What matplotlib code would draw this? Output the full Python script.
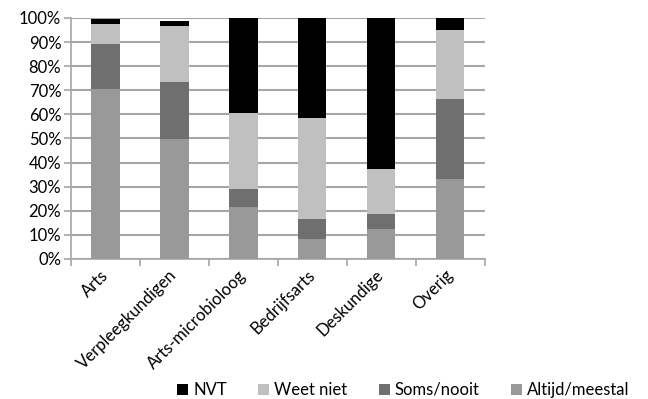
import numpy as np
import matplotlib.pyplot as plt
from matplotlib.ticker import PercentFormatter, FixedLocator

categories = ['Arts', 'Verpleegkundigen', 'Arts-microbioloog', 'Bedrijfsarts', 'Deskundige', 'Overig']
altijd = [70.4, 49.8, 21.6, 8.3, 12.5, 33.3]
soms = [19.0, 23.6, 7.4, 8.4, 6.25, 33.2]
weet_niet = [8.1, 23.3, 31.6, 41.7, 18.75, 28.5]
nvt = [2.1, 1.9, 39.4, 41.6, 62.5, 5.0]

series = [
    ('Altijd/meestal', altijd, '#999999'),
    ('Soms/nooit', soms, '#6f6f6f'),
    ('Weet niet', weet_niet, '#bfc0bf'),
    ('NVT', nvt, '#000000'),
]

plt.rcParams['font.family'] = ['Lato', 'DejaVu Sans']
fs = 12

fig = plt.figure(figsize=(6.48, 3.99), dpi=100)
ax = fig.add_axes([0.1096, 0.351, 0.6384, 0.604])

x = np.arange(len(categories))
bottom = np.zeros(len(categories))
bars = {}
for name, vals, col in series:
    bars[name] = ax.bar(x, vals, 0.41, bottom=bottom, color=col, label=name, zorder=3)
    bottom += np.array(vals)

ax.set_xlim(-0.5, len(categories) - 0.5)
ax.set_ylim(0, 100)
ax.set_yticks(np.arange(0, 101, 10))
ax.yaxis.set_major_formatter(PercentFormatter(decimals=0))
ax.grid(axis='y', color='#a6a6a6', linewidth=1.5, zorder=0)

# category boundaries get the tick marks, labels sit at the bar centres
ax.xaxis.set_major_locator(FixedLocator(np.arange(-0.5, len(categories), 1)))
ax.xaxis.set_major_formatter(plt.NullFormatter())
ax.xaxis.set_minor_locator(FixedLocator(x))
ax.set_xticklabels(categories, minor=True, rotation=45, ha='right', va='center',
                   rotation_mode='anchor', fontsize=fs)
ax.tick_params(axis='x', which='major', length=5, color='#a6a6a6', width=1.2)
ax.tick_params(axis='x', which='minor', length=0, pad=10)
ax.tick_params(axis='y', length=5, color='#a6a6a6', width=1.2, labelsize=fs, pad=2)

for s in ['top', 'right']:
    ax.spines[s].set_visible(False)
for s in ['left', 'bottom']:
    ax.spines[s].set_color('#a6a6a6')
    ax.spines[s].set_linewidth(1.2)

handles = [bars[n] for n in ['NVT', 'Weet niet', 'Soms/nooit', 'Altijd/meestal']]
fig.legend(handles, ['NVT', 'Weet niet', 'Soms/nooit', 'Altijd/meestal'],
           loc='lower right', bbox_to_anchor=(0.995, -0.035), ncol=4, frameon=False,
           fontsize=fs, handlelength=0.65, handleheight=0.65, handletextpad=0.3,
           columnspacing=1.9)

fig.savefig('out.png', dpi=100)
